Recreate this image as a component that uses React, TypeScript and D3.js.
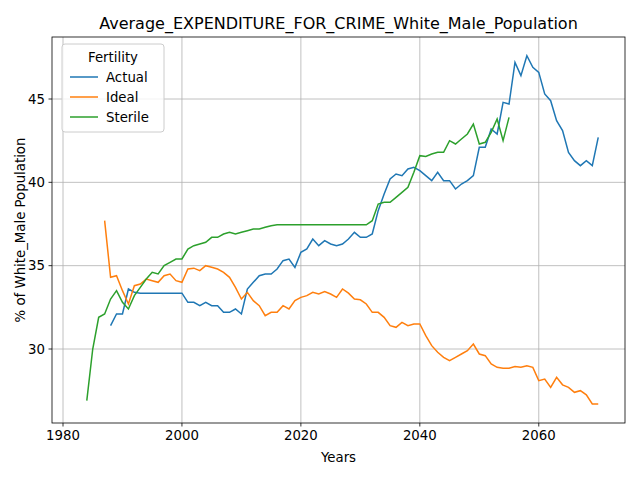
import React from 'react';
import * as d3 from 'd3';

const actualStart = 1988;
const actual = [31.4, 32.1, 32.1, 33.6, 33.4, 33.35, 33.35, 33.35, 33.35, 33.35, 33.35, 33.35, 33.35,
  32.8, 32.8, 32.6, 32.8, 32.6, 32.6, 32.2, 32.2, 32.4, 32.1, 33.6, 34.0, 34.4, 34.5, 34.5, 34.8, 35.3, 35.4, 34.9,
  35.8, 36.0, 36.6, 36.2, 36.5, 36.3, 36.2, 36.3, 36.6, 37.0, 36.7, 36.7, 36.9, 38.3, 39.3, 40.2, 40.5, 40.4, 40.8, 40.9,
  40.7, 40.4, 40.1, 40.6, 40.1, 40.1, 39.6, 39.9, 40.1, 40.4, 42.1, 42.1, 43.2, 42.9, 44.8, 44.7, 47.2, 46.4, 47.6, 46.9,
  46.6, 45.3, 44.9, 43.7, 43.1, 41.8, 41.3, 41.0, 41.3, 41.0, 42.7];

const idealStart = 1987;
const ideal = [37.7, 34.3, 34.4, 33.5, 32.7, 33.8, 33.9, 34.2, 34.1, 34.0, 34.4, 34.5, 34.1, 34.0,
  34.8, 34.85, 34.7, 35.0, 34.9, 34.8, 34.6, 34.3, 33.7, 33.0, 33.4, 32.9, 32.6, 32.0, 32.2, 32.2, 32.6, 32.4, 32.9,
  33.1, 33.2, 33.4, 33.3, 33.45, 33.3, 33.1, 33.6, 33.35, 33.0, 32.95, 32.7, 32.2, 32.2, 31.9, 31.4, 31.3, 31.6, 31.4, 31.5,
  31.5, 30.8, 30.2, 29.8, 29.5, 29.3, 29.5, 29.7, 29.9, 30.3, 29.7, 29.6, 29.1, 28.9, 28.85, 28.85, 28.95, 28.9, 29.0, 28.9,
  28.1, 28.2, 27.7, 28.3, 27.85, 27.7, 27.4, 27.5, 27.25, 26.7, 26.7];

const sterileStart = 1984;
const sterile = [26.9, 30.0, 31.9, 32.1, 33.0, 33.5, 32.8, 32.4, 33.2, 33.7, 34.2, 34.6, 34.5, 35.0, 35.2, 35.4, 35.4,
  36.0, 36.2, 36.3, 36.4, 36.7, 36.7, 36.9, 37.0, 36.9, 37.0, 37.1, 37.2, 37.2, 37.3, 37.4, 37.45, 37.45,
  37.45, 37.45, 37.45, 37.45, 37.45, 37.45, 37.45, 37.45, 37.45, 37.45, 37.45, 37.45, 37.45, 37.45,
  37.7, 38.7, 38.8, 38.8, 39.1, 39.4, 39.7, 40.6, 41.6, 41.55, 41.7, 41.8, 41.8, 42.5, 42.3, 42.6, 42.9, 43.5,
  42.3, 42.4, 43.0, 43.8, 42.5, 43.9];

const series = [
  { name: 'Actual', start: actualStart, values: actual, color: '#1f77b4' },
  { name: 'Ideal', start: idealStart, values: ideal, color: '#ff7f0e' },
  { name: 'Sterile', start: sterileStart, values: sterile, color: '#2ca02c' },
];

const xTicks = [1980, 2000, 2020, 2040, 2060];
const yTicks = [30, 35, 40, 45];

const W = 640, H = 480;
const m = { left: 52, right: 625, top: 37, bottom: 423 };

export default function App() {
  const x = d3.scaleLinear().domain([1978.15, 2074.5]).range([m.left, m.right]);
  const y = d3.scaleLinear().domain([25.56, 48.72]).range([m.bottom, m.top]);
  const line = d3.line<[number, number]>().x(d => x(d[0])).y(d => y(d[1]));
  const font = 'DejaVu Sans, sans-serif';

  return (
    <svg width={W} height={H} style={{ position: 'absolute', left: 0, top: 0, background: '#fff' }} fontFamily={font}>
      <rect width={W} height={H} fill="#fff" />
      {xTicks.map(t => (
        <g key={t}>
          <line x1={x(t)} x2={x(t)} y1={m.top} y2={m.bottom} stroke="#b0b0b0" strokeWidth={0.8} />
          <line x1={x(t)} x2={x(t)} y1={m.bottom} y2={m.bottom + 3.5} stroke="#000" strokeWidth={0.8} />
          <text x={x(t)} y={m.bottom + 17} textAnchor="middle" fontSize={13.3}>{t}</text>
        </g>
      ))}
      {yTicks.map(t => (
        <g key={t}>
          <line x1={m.left} x2={m.right} y1={y(t)} y2={y(t)} stroke="#b0b0b0" strokeWidth={0.8} />
          <line x1={m.left - 3.5} x2={m.left} y1={y(t)} y2={y(t)} stroke="#000" strokeWidth={0.8} />
          <text x={m.left - 7} y={y(t) + 4.5} textAnchor="end" fontSize={13.3}>{t}</text>
        </g>
      ))}
      {series.map(s => (
        <path key={s.name} d={line(s.values.map((v, i) => [s.start + i, v] as [number, number])) || ''}
          fill="none" stroke={s.color} strokeWidth={1.5} />
      ))}
      <rect x={m.left} y={m.top} width={m.right - m.left} height={m.bottom - m.top} fill="none" stroke="#000" strokeWidth={0.8} />
      <text x={(m.left + m.right) / 2} y={29} textAnchor="middle" fontSize={16}>Average_EXPENDITURE_FOR_CRIME_White_Male_Population</text>
      <text x={(m.left + m.right) / 2} y={462} textAnchor="middle" fontSize={13.3}>Years</text>
      <text transform={`translate(25,${(m.top + m.bottom) / 2}) rotate(-90)`} textAnchor="middle" fontSize={13.3}>% of White_Male Population</text>
      <g transform="translate(62,44)">
        <rect width={102} height={88} rx={3} fill="#fff" fillOpacity={0.8} stroke="#ccc" />
        <text x={51} y={18} textAnchor="middle" fontSize={13.3}>Fertility</text>
        {series.map((s, i) => (
          <g key={s.name} transform={`translate(0,${33 + i * 20})`}>
            <line x1={8} x2={36} y1={0} y2={0} stroke={s.color} strokeWidth={1.5} />
            <text x={44} y={4.5} fontSize={13.3}>{s.name}</text>
          </g>
        ))}
      </g>
    </svg>
  );
}
